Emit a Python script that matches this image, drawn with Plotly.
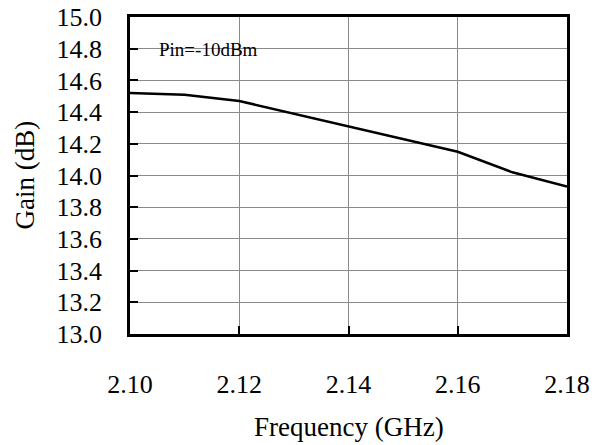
import plotly.graph_objects as go

freq = [2.10, 2.11, 2.12, 2.13, 2.14, 2.15, 2.16, 2.17, 2.18]
gain = [14.52, 14.51, 14.47, 14.39, 14.31, 14.23, 14.15, 14.02, 13.93]
x_ticks = [2.10, 2.12, 2.14, 2.16, 2.18]
x_labels = ["2.10", "2.12", "2.14", "2.16", "2.18"]
y_ticks = [13.0, 13.2, 13.4, 13.6, 13.8, 14.0, 14.2, 14.4, 14.6, 14.8, 15.0]
y_labels = ["13.0", "13.2", "13.4", "13.6", "13.8", "14.0", "14.2", "14.4", "14.6", "14.8", "15.0"]

FONT = "Liberation Serif"

fig = go.Figure()
fig.add_trace(go.Scatter(x=freq, y=gain, mode="lines", hoverinfo="skip",
                         line=dict(color="black", width=2.5), showlegend=False))

fig.update_layout(
    width=605, height=445,
    margin=dict(l=130, r=38, t=17, b=111),
    paper_bgcolor="white", plot_bgcolor="white",
    font=dict(family=FONT, size=26, color="black"),
    xaxis=dict(range=[2.10, 2.18], tickvals=x_ticks, ticktext=x_labels,
               showgrid=True, gridcolor="#8a8a8a", gridwidth=1,
               showline=True, linecolor="black", linewidth=2.5, mirror=True,
               ticks="inside", ticklen=8, tickwidth=1.5, tickcolor="black",
               ticklabelstandoff=25, zeroline=False, automargin=False,
               ticklabeloverflow="allow",
               tickfont=dict(family=FONT, size=26)),
    yaxis=dict(range=[13.0, 15.0], tickvals=y_ticks, ticktext=y_labels,
               showgrid=True, gridcolor="#8a8a8a", gridwidth=1,
               showline=True, linecolor="black", linewidth=2.5, mirror=True,
               ticks="inside", ticklen=8, tickwidth=1.5, tickcolor="black",
               ticklabelstandoff=20, zeroline=False, automargin=False,
               ticklabeloverflow="allow",
               tickfont=dict(family=FONT, size=26)),
    annotations=[
        dict(text="Pin=-10dBm", xref="paper", yref="paper", x=0.062, y=0.896,
             xanchor="left", yanchor="middle", showarrow=False,
             font=dict(family=FONT, size=19, color="black")),
        dict(text="Frequency (GHz)", xref="paper", yref="paper", x=0.5, y=0,
             yshift=-93, xanchor="center", yanchor="middle", showarrow=False,
             font=dict(family=FONT, size=27, color="black")),
        dict(text="Gain (dB)", xref="paper", yref="paper", x=0, y=0.5,
             xshift=-106, xanchor="center", yanchor="middle", textangle=-90,
             showarrow=False, font=dict(family=FONT, size=27, color="black")),
    ],
)

fig.write_html("out.html", config={"displayModeBar": False},
               post_script="document.body.style.margin='0';document.body.style.padding='0';")
